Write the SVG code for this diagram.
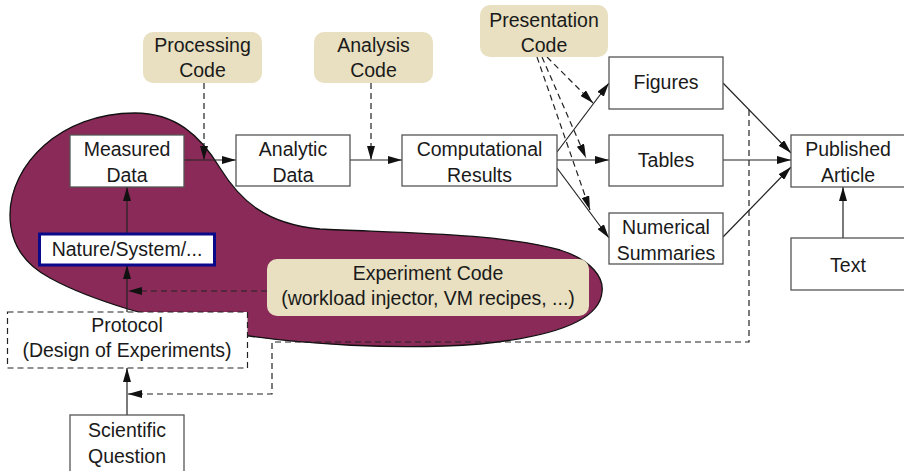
<svg xmlns="http://www.w3.org/2000/svg" width="904" height="471" viewBox="0 0 904 471">
<defs>
<marker id="ah" markerUnits="userSpaceOnUse" markerWidth="14" markerHeight="8" refX="14" refY="4" orient="auto">
<path d="M0,0 L14,4 L0,8 z" fill="#111"/>
</marker>
<style>
.box{fill:#fff;stroke:#555;stroke-width:1.3}
.code{fill:#e8e0c0;stroke:none}
.t{font-family:"Liberation Sans",Arial,sans-serif;font-size:19.5px;fill:#1a1a1a;text-anchor:middle}
.ln{fill:none;stroke:#222;stroke-width:1.2}
.dl{fill:none;stroke:#222;stroke-width:1.2;stroke-dasharray:6,4}
</style>
</defs>
<rect width="904" height="471" fill="#fff"/>
<path id="blob" d="M10,215 C10,165 60,113 135,113 C175,113 200,135 220,168 C240,200 265,224 320,229 C400,233 500,233 560,250 C592,260 604,278 602,292 C600,318 560,336 480,344 C400,350 300,345 230,333 C160,321 90,300 50,278 C20,262 10,240 10,215 Z" fill="#8a2a58" stroke="#111" stroke-width="1.3"/>
<g id="connectors">
<line class="ln" x1="184" y1="160" x2="236" y2="160" marker-end="url(#ah)"/>
<line class="ln" x1="350" y1="160" x2="402" y2="160" marker-end="url(#ah)"/>
<line class="ln" x1="557" y1="152" x2="609" y2="83" marker-end="url(#ah)"/>
<line class="ln" x1="557" y1="160" x2="609" y2="160" marker-end="url(#ah)"/>
<line class="ln" x1="557" y1="168" x2="609" y2="238" marker-end="url(#ah)"/>
<line class="ln" x1="723" y1="83" x2="791" y2="153" marker-end="url(#ah)"/>
<line class="ln" x1="723" y1="160" x2="791" y2="160" marker-end="url(#ah)"/>
<line class="ln" x1="723" y1="237" x2="791" y2="167" marker-end="url(#ah)"/>
<line class="ln" x1="843" y1="238" x2="843" y2="187" marker-end="url(#ah)"/>
<line class="ln" x1="127" y1="233" x2="127" y2="187" marker-end="url(#ah)"/>
<line class="ln" x1="127" y1="312" x2="127" y2="265" marker-end="url(#ah)"/>
<line class="ln" x1="127" y1="415" x2="127" y2="368" marker-end="url(#ah)"/>
<line class="dl" x1="204" y1="83" x2="204" y2="160" marker-end="url(#ah)"/>
<line class="dl" x1="371" y1="83" x2="371" y2="160" marker-end="url(#ah)"/>
<line class="dl" x1="547" y1="57" x2="593" y2="103" marker-end="url(#ah)"/>
<line class="dl" x1="542" y1="57" x2="586" y2="158" marker-end="url(#ah)"/>
<line class="dl" x1="537" y1="57" x2="590" y2="210" marker-end="url(#ah)"/>
<line class="dl" x1="267" y1="291" x2="128" y2="291" marker-end="url(#ah)"/>
<polyline class="dl" points="749,110 749,342 272,342 272,394 128,394" marker-end="url(#ah)"/>
</g>
<g id="measured"><rect class="box" x="70" y="135" width="114" height="52"/><text class="t" x="127" y="156">Measured</text><text class="t" x="127" y="182">Data</text></g>
<g id="analytic"><rect class="box" x="236" y="135" width="114" height="51"/><text class="t" x="293" y="156">Analytic</text><text class="t" x="293" y="182">Data</text></g>
<g id="computational"><rect class="box" x="402" y="135" width="155" height="51"/><text class="t" x="479.5" y="156">Computational</text><text class="t" x="479.5" y="182">Results</text></g>
<g id="figures"><rect class="box" x="609" y="57" width="114" height="52"/><text class="t" x="666" y="89">Figures</text></g>
<g id="tables"><rect class="box" x="609" y="135" width="114" height="51"/><text class="t" x="666" y="167">Tables</text></g>
<g id="numerical"><rect class="box" x="609" y="213" width="114" height="51"/><text class="t" x="666" y="234">Numerical</text><text class="t" x="666" y="260">Summaries</text></g>
<g id="published"><rect class="box" x="791" y="135" width="120" height="52"/><text class="t" x="848" y="156">Published</text><text class="t" x="848" y="182">Article</text></g>
<g id="text"><rect class="box" x="791" y="238" width="120" height="52"/><text class="t" x="848" y="272">Text</text></g>
<g id="nature"><rect x="39.5" y="234" width="175" height="31" fill="#fff" stroke="#0a0a8a" stroke-width="3"/><text class="t" x="127" y="256">Nature/System/...</text></g>
<g id="protocol"><rect x="7.5" y="312" width="240" height="56" fill="#fff" stroke="#222" stroke-width="1.2" stroke-dasharray="6,4"/><text class="t" x="127" y="332">Protocol</text><text class="t" x="127" y="357">(Design of Experiments)</text></g>
<g id="question"><rect class="box" x="70" y="415" width="114" height="70"/><text class="t" x="127" y="437">Scientific</text><text class="t" x="127" y="463">Question</text></g>
<g id="processing"><rect class="code" x="143" y="32" width="119" height="51" rx="10"/><text class="t" x="202.5" y="52">Processing</text><text class="t" x="202.5" y="77">Code</text></g>
<g id="analysis"><rect class="code" x="314" y="32" width="119" height="51" rx="10"/><text class="t" x="373.5" y="52">Analysis</text><text class="t" x="373.5" y="77">Code</text></g>
<g id="presentation"><rect class="code" x="480" y="5" width="128" height="52" rx="10"/><text class="t" x="544" y="27">Presentation</text><text class="t" x="544" y="52">Code</text></g>
<g id="experiment"><rect class="code" x="267" y="259" width="322" height="57" rx="10"/><text class="t" x="428" y="280">Experiment Code</text><text class="t" x="428" y="305">(workload injector, VM recipes, ...)</text></g>
</svg>
